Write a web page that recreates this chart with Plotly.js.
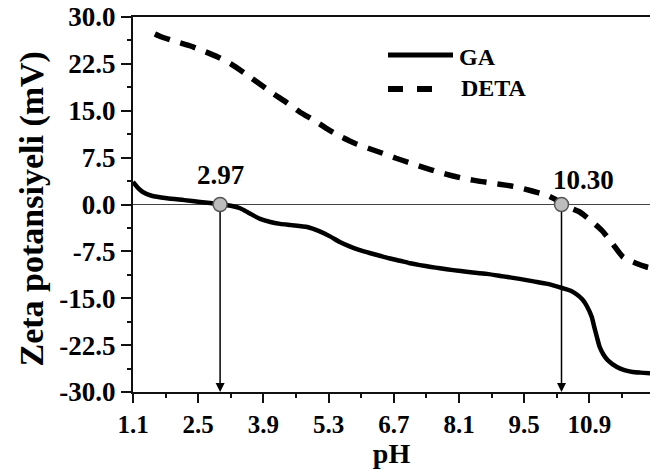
<!DOCTYPE html>
<html>
<head>
<meta charset="utf-8">
<script src="https://cdn.plot.ly/plotly-3.0.1.min.js"></script>
<style>html,body{margin:0;padding:0;background:#fff;}#chart{width:650px;height:471px;}</style>
</head>
<body>
<div id="chart"></div>
<script>
// ---- data ----
const gaPH = [1.1, 1.2, 1.31, 1.5, 1.83, 2.2, 2.54, 2.97, 3.2, 3.4, 3.6, 3.83, 4.05, 4.26, 4.5, 4.84, 5.11, 5.33, 5.54, 5.75, 5.97, 6.2, 6.4, 6.6, 6.83, 7.05, 7.26, 7.5, 7.69, 7.97, 8.3, 8.7, 9.05, 9.4, 9.7, 10.0, 10.33, 10.5, 10.63, 10.75, 10.84, 10.95, 11.0, 11.06, 11.12, 11.2, 11.29, 11.49, 11.65, 11.83, 12.0, 12.25];
const gaZeta = [3.6, 2.7, 2.0, 1.4, 1.0, 0.7, 0.4, 0.05, -0.2, -0.6, -1.4, -2.3, -2.8, -3.1, -3.3, -3.6, -4.3, -5.1, -6.0, -6.7, -7.3, -7.8, -8.2, -8.6, -9.0, -9.4, -9.7, -10.0, -10.2, -10.5, -10.8, -11.1, -11.5, -11.9, -12.3, -12.7, -13.4, -13.8, -14.4, -15.2, -16.2, -18.0, -19.5, -21.2, -22.8, -24.0, -24.9, -26.0, -26.5, -26.8, -26.9, -27.0];
const detaPH = [1.57, 1.72, 2.0, 2.32, 2.6, 2.92, 3.2, 3.5, 3.8, 4.1, 4.4, 4.68, 5.0, 5.27, 5.55, 5.86, 6.15, 6.46, 6.75, 7.07, 7.35, 7.65, 7.95, 8.25, 8.55, 8.83, 9.1, 9.34, 9.65, 9.98, 10.15, 10.33, 10.5, 10.69, 10.9, 11.16, 11.4, 11.62, 11.9, 12.13, 12.25];
const detaZeta = [27.3, 26.8, 26.1, 25.4, 24.6, 23.6, 22.5, 21.0, 19.4, 17.8, 16.3, 14.8, 13.4, 12.1, 10.9, 9.8, 9.0, 8.2, 7.4, 6.6, 5.9, 5.2, 4.6, 4.1, 3.7, 3.4, 3.1, 2.8, 2.2, 1.5, 0.9, 0.0, -0.6, -1.2, -2.4, -4.1, -6.3, -8.4, -9.4, -10.0, -10.2];
const iepPH = [2.97, 10.30];
const iepZeta = [0, 0];
const iepLabels = ["2.97", "10.30"];
const xTickVals = [1.1, 2.5, 3.9, 5.3, 6.7, 8.1, 9.5, 10.9];
const xTickText = ["1.1", "2.5", "3.9", "5.3", "6.7", "8.1", "9.5", "10.9"];
const yTickVals = [-30, -22.5, -15, -7.5, 0, 7.5, 15, 22.5, 30];
const yTickText = ["-30.0", "-22.5", "-15.0", "-7.5", "0.0", "7.5", "15.0", "22.5", "30.0"];
const seriesNames = ["GA", "DETA"];
const axisMin = -30;

const serifFont = "Liberation Serif";

const traces = [
  {x: gaPH, y: gaZeta, mode: "lines", name: seriesNames[0], line: {color: "#000", width: 4.5, shape: "spline", smoothing: 0.6}, showlegend: false},
  {x: detaPH, y: detaZeta, mode: "lines", name: seriesNames[1], line: {color: "#000", width: 5.5, dash: "16px,11px", shape: "spline", smoothing: 0.6}, showlegend: false},
  {x: iepPH, y: iepZeta, mode: "markers", marker: {size: 14, color: "#bdbdbd", line: {color: "#555", width: 1.5}}, showlegend: false, cliponaxis: false}
];

const annotations = [];
iepPH.forEach((p, i) => {
  annotations.push({x: p, y: axisMin, xref: "x", yref: "y", ax: p, ay: iepZeta[i], axref: "x", ayref: "y",
    text: "", showarrow: true, arrowhead: 2, arrowsize: 1.2, arrowwidth: 1.5, arrowcolor: "#000", standoff: 0, startstandoff: 6});
});
annotations.push({x: iepPH[0], y: 4.7, xref: "x", yref: "y", text: iepLabels[0], showarrow: false,
  font: {family: serifFont, size: 27, color: "#000", weight: "bold"}});
annotations.push({x: 10.78, y: 3.9, xref: "x", yref: "y", text: iepLabels[1], showarrow: false,
  font: {family: serifFont, size: 27, color: "#000", weight: "bold"}});
annotations.push({x: 0, y: 0.5, xref: "paper", yref: "paper", xanchor: "center", yanchor: "middle", xshift: -102, yshift: -5, textangle: -90,
  text: "Zeta potansiyeli (mV)", showarrow: false, font: {family: serifFont, size: 34, color: "#000", weight: "bold"}});
const px2x = p => (p - 133) / 517;
const px2y = p => (392 - p) / 375;
annotations.push({x: px2x(457), y: px2y(57), xref: "paper", yref: "paper", xanchor: "left", yanchor: "middle",
  text: seriesNames[0], showarrow: false, font: {family: serifFont, size: 24, color: "#000", weight: "bold"}});
annotations.push({x: px2x(459), y: px2y(88), xref: "paper", yref: "paper", xanchor: "left", yanchor: "middle",
  text: seriesNames[1], showarrow: false, font: {family: serifFont, size: 24, color: "#000", weight: "bold"}});

const shapes = [
  {type: "line", xref: "paper", yref: "paper", x0: px2x(388), x1: px2x(453), y0: px2y(55), y1: px2y(55), line: {color: "#000", width: 5}},
  {type: "line", xref: "paper", yref: "paper", x0: px2x(388), x1: px2x(403), y0: px2y(89), y1: px2y(89), line: {color: "#000", width: 6}},
  {type: "line", xref: "paper", yref: "paper", x0: px2x(417), x1: px2x(432), y0: px2y(89), y1: px2y(89), line: {color: "#000", width: 6}}
];

const layout = {
  width: 650, height: 471,
  margin: {l: 133, r: 0, t: 17, b: 79, pad: 0},
  paper_bgcolor: "#fff", plot_bgcolor: "#fff",
  showlegend: false,
  font: {family: serifFont},
  xaxis: {
    range: [1.1, 12.2], tickmode: "array", tickvals: xTickVals, ticktext: xTickText,
    ticks: "outside", ticklen: 9, tickwidth: 2, tickcolor: "#111",
    showline: true, linewidth: 2, linecolor: "#111", mirror: true,
    showgrid: false, zeroline: false,
    tickfont: {family: serifFont, size: 25, color: "#000", weight: "bold"},
    minor: {ticks: "outside", ticklen: 4, tickwidth: 2, tickcolor: "#111", tick0: 1.1, dtick: 0.7, showgrid: false},
    title: {text: "pH", font: {family: serifFont, size: 28, color: "#000", weight: "bold"}, standoff: 0}
  },
  yaxis: {
    range: [-30, 30], tickmode: "array", tickvals: yTickVals, ticktext: yTickText,
    ticks: "outside", ticklen: 10, tickwidth: 2, tickcolor: "#111",
    showline: true, linewidth: 2, linecolor: "#111",
    showgrid: false, zeroline: true, zerolinecolor: "#444", zerolinewidth: 1.5,
    tickfont: {family: serifFont, size: 27, color: "#000", weight: "bold"},
    minor: {ticks: "outside", ticklen: 4, tickwidth: 2, tickcolor: "#111", tick0: 0, dtick: 3.75, showgrid: false}
  },
  annotations: annotations,
  shapes: shapes
};

Plotly.newPlot("chart", traces, layout, {displayModeBar: false, staticPlot: true});
</script>
</body>
</html>
